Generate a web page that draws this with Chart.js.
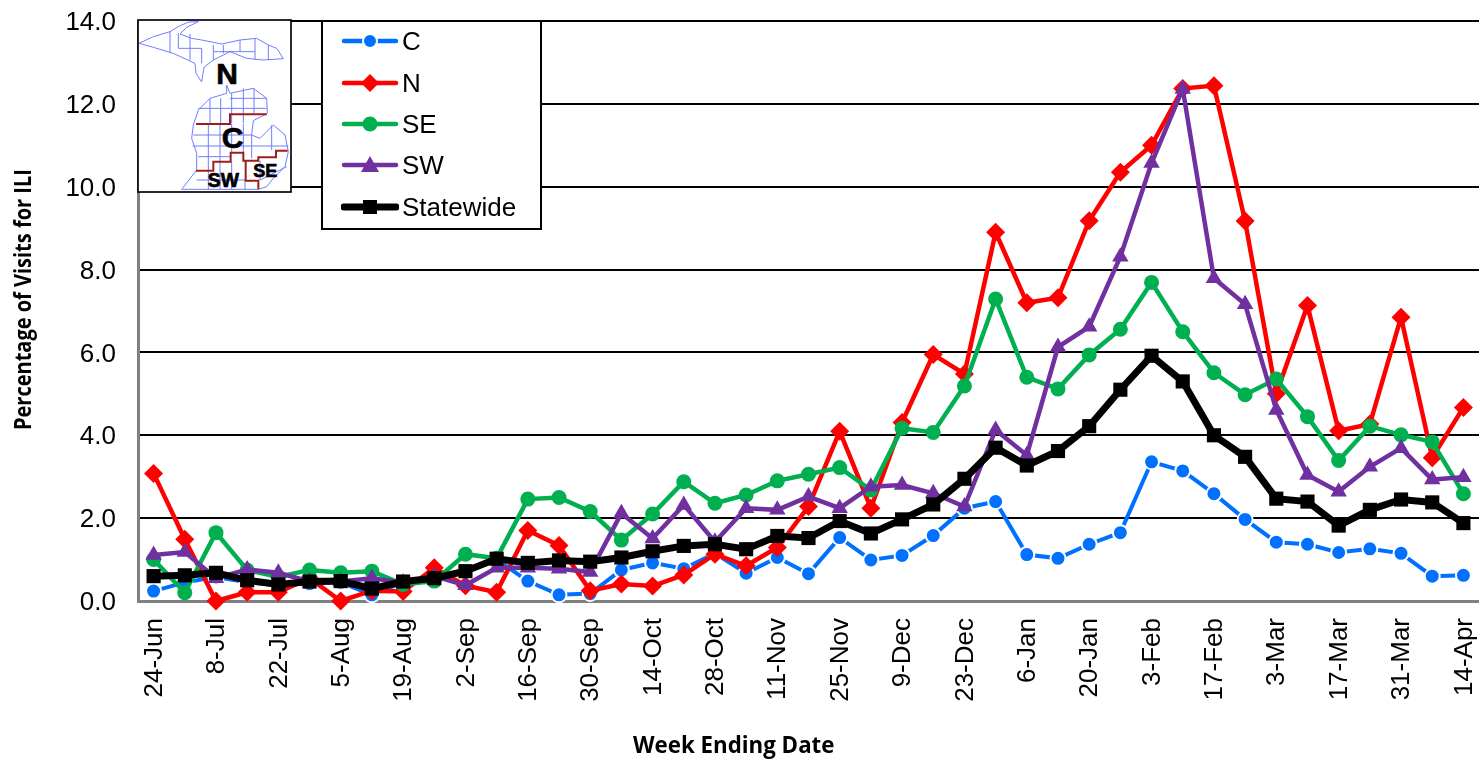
<!DOCTYPE html>
<html><head><meta charset="utf-8">
<style>
html,body{margin:0;padding:0;background:#fff;width:1479px;height:759px;overflow:hidden}
#c{position:absolute;left:0;top:0}
#map{position:absolute;left:130px;top:10px}
#titles{position:absolute;left:0;top:0}
#legend{position:absolute;left:321px;top:20px;width:217px;height:206px;border:2px solid #000;background:#fff;
 font-family:"Liberation Sans",Arial,sans-serif;font-size:26px;color:#000}
.row{position:absolute;left:0;height:30px;line-height:30px;white-space:nowrap}
.row svg{position:absolute;left:18px;top:0}
.row span{position:absolute;left:79px;top:0}
</style></head><body>
<canvas id="c" width="1479" height="759"></canvas>
<svg id="titles" width="1479" height="759" font-family="Open Sans,Noto Sans,sans-serif" font-weight="bold" fill="#000">
<text transform="translate(31,430) rotate(-90) scale(1,1.12)" font-size="20">Percentage of Visits for ILI</text>
<text x="633" y="753" font-size="22.3">Week Ending Date</text>
</svg>
<svg id="map" width="420" height="230" viewBox="0 0 1260 690">
<rect x="24" y="30" width="459" height="516" fill="#fff" stroke="#000" stroke-width="5"/>
<g fill="none" stroke="#6f7dff" stroke-width="3">
<path d="M27,100 L70,80 L120,65 L145,50 L175,36 L205,35 L170,52 L150,72 L185,85 L215,90 L275,102 L330,90 L380,85 L415,105 L440,115 L460,146 L400,150 L350,145 L300,125 L250,150 L222,172 L215,216 L198,190 L195,160 L130,130 L70,112 Z"/>
<path d="M290,225 L300,250 L370,235 L410,265 L412,310 L370,332 L365,375 L390,385 L430,345 L465,375 L475,425 L465,470 L430,505 L410,530 L385,538 L155,538 L200,480 L200,430 L185,385 L190,345 L205,300 L240,265 L290,250 Z"/>
<path d="M120,65 L120,130 M145,70 L145,115 L215,115 L215,160 M180,72 L180,150 M250,105 L250,150 M280,105 L280,130 M330,90 L330,125 M375,85 L375,150 M250,125 L375,125 M415,105 L415,150"/>
<path d="M205,295 L410,295 M240,265 L240,340 M272,265 L272,340 M305,250 L305,340 M340,235 L340,340 M372,235 L372,310 M300,265 L410,265"/>
<path d="M190,375 L365,375 M188,408 L475,408 M205,440 L300,440 M235,342 L235,480 M270,342 L270,455 M305,342 L305,428 M340,342 L340,428 M365,375 L365,445 M425,345 L425,420 M200,510 L345,510 M235,480 L235,538 M270,455 L270,538 M305,455 L305,538 M345,510 L345,538 M390,452 L390,510 L470,470"/>
</g>
<g fill="none" stroke="#a01c1c" stroke-width="6">
<path d="M198,342 L300,342 L300,313 L410,313"/>
<path d="M198,482 L250,482 L250,455 L302,455 L302,428 L340,428 L340,452 L385,452 L385,442 L438,442 L438,422 L473,422"/>
<path d="M347,452 L347,512 L385,512 L385,538"/>
</g>
<g font-family="Liberation Sans,Arial,sans-serif" font-weight="bold" fill="#000" text-anchor="middle" stroke="#000" stroke-width="2">
<text x="291" y="222" font-size="90">N</text>
<text x="308" y="414" font-size="90">C</text>
<text x="280" y="532" font-size="58">SW</text>
<text x="406" y="502" font-size="54">SE</text>
</g>
</svg>
<div id="legend"></div>
<script src="https://cdn.jsdelivr.net/npm/chart.js@4"></script>
<script>
const categories=["24-Jun","1-Jul","8-Jul","15-Jul","22-Jul","29-Jul","5-Aug","12-Aug","19-Aug","26-Aug","2-Sep","9-Sep","16-Sep","23-Sep","30-Sep","7-Oct","14-Oct","21-Oct","28-Oct","4-Nov","11-Nov","18-Nov","25-Nov","2-Dec","9-Dec","16-Dec","23-Dec","30-Dec","6-Jan","13-Jan","20-Jan","27-Jan","3-Feb","10-Feb","17-Feb","24-Feb","3-Mar","10-Mar","17-Mar","24-Mar","31-Mar","7-Apr","14-Apr"];
const seriesC=[0.24,0.45,0.58,0.45,0.38,0.42,0.45,0.15,0.45,0.5,0.7,1.0,0.48,0.15,0.18,0.75,0.92,0.78,1.15,0.67,1.05,0.66,1.53,0.99,1.10,1.58,2.24,2.40,1.12,1.03,1.37,1.65,3.36,3.14,2.59,1.97,1.42,1.37,1.17,1.26,1.15,0.60,0.62];
const seriesN=[3.08,1.49,0.0,0.21,0.21,0.55,0.0,0.25,0.23,0.8,0.37,0.21,1.70,1.34,0.25,0.41,0.36,0.63,1.13,0.85,1.29,2.28,4.10,2.24,4.31,5.95,5.48,8.9,7.2,7.32,9.18,10.35,11.0,12.37,12.44,9.17,5.0,7.13,4.11,4.27,6.85,3.46,4.67];
const seriesSE=[1.0,0.2,1.65,0.75,0.58,0.75,0.68,0.72,0.4,0.48,1.13,1.03,2.46,2.5,2.16,1.47,2.10,2.88,2.36,2.56,2.90,3.06,3.22,2.68,4.17,4.07,5.19,7.29,5.4,5.12,5.94,6.56,7.69,6.50,5.51,4.98,5.36,4.45,3.39,4.22,4.01,3.84,2.59];
const seriesSW=[1.11,1.18,0.55,0.76,0.68,0.47,0.47,0.55,0.44,0.6,0.38,0.8,0.8,0.78,0.7,2.12,1.51,2.32,1.43,2.24,2.2,2.52,2.24,2.76,2.8,2.6,2.28,4.13,3.52,6.13,6.62,8.31,10.57,12.36,7.79,7.16,4.61,3.04,2.64,3.24,3.69,2.93,2.99];
const seriesState=[0.6,0.62,0.68,0.5,0.4,0.47,0.48,0.3,0.47,0.55,0.72,1.02,0.92,0.98,0.95,1.05,1.2,1.33,1.37,1.25,1.57,1.52,1.93,1.63,1.97,2.33,2.95,3.7,3.27,3.62,4.22,5.1,5.92,5.3,4.0,3.48,2.47,2.4,1.82,2.2,2.45,2.38,1.88];
const yTicks=[0,2,4,6,8,10,12,14];
const seriesNames=["C","N","SE","SW","Statewide"];
const seriesValues=[seriesC,seriesN,seriesSE,seriesSW,seriesState];
const seriesColors=["#0070ff","#ff0000","#00b050","#7030a0","#000000"];
const pointStyles=["circle","rectRot","circle","triangle","rect"];
const pointSizes=[7.5,9.5,7.5,9.5,10];
const lineWidths=[4,4.5,4.5,4.5,7];
const FONT='"Liberation Sans",Arial,sans-serif';
const noPad=s=>{s.paddingLeft=0;s.paddingRight=0;s.paddingTop=0;s.paddingBottom=0};

new Chart(document.getElementById('c'),{
 type:'line',
 data:{labels:categories,datasets:seriesNames.map((n,i)=>({
  label:n,data:seriesValues[i],borderColor:seriesColors[i],backgroundColor:seriesColors[i],
  borderWidth:lineWidths[i],tension:0,pointStyle:pointStyles[i],pointRadius:pointSizes[i],
  pointBackgroundColor:seriesColors[i],pointBorderColor:i===0?'#ffffff':seriesColors[i],pointBorderWidth:i===0?2:0,
  order:seriesNames.length-i,clip:false
 }))},
 options:{responsive:false,animation:false,
  layout:{autoPadding:false,padding:{top:21,left:0,right:0,bottom:0}},
  plugins:{legend:{display:false},tooltip:{enabled:false}},
  scales:{
   x:{offset:true,
    afterFit:s=>{s.height=158;noPad(s)},
    grid:{display:false,drawTicks:false},
    border:{display:true,color:'#808080',width:3},
    ticks:{autoSkip:false,minRotation:90,maxRotation:90,padding:17,labelOffset:1,color:'#000',font:{family:FONT,size:26},
      callback:function(v,i){return i%2===0?this.getLabelForValue(v):''}}
   },
   y:{min:0,max:14,
    afterBuildTicks:s=>{s.ticks=yTicks.map(v=>({value:v}))},
    afterFit:s=>{s.width=138;noPad(s)},
    grid:{drawTicks:false,lineWidth:2,color:c=>c.tick&&c.tick.value===0?'rgba(0,0,0,0)':'#000'},
    border:{display:true,color:'#808080',width:3},
    ticks:{padding:22,labelOffset:2,color:'#000',font:{family:FONT,size:26},callback:v=>v.toFixed(1)}
   }
  }
 }
});

const rowTops=[4,46,87,128,170];
const legend=document.getElementById('legend');
seriesNames.forEach((n,i)=>{
 const col=seriesColors[i],lw=i===4?7:4.5;let m='';
 if(i===0)m=`<circle cx="29" cy="15" r="7" fill="${col}" stroke="#fff" stroke-width="2"/>`;
 if(i===1)m=`<path d="M29,6 L38,15 L29,24 L20,15 Z" fill="${col}"/>`;
 if(i===2)m=`<circle cx="29" cy="15" r="7.5" fill="${col}"/>`;
 if(i===3)m=`<path d="M29,6 L38,22 L20,22 Z" fill="${col}"/>`;
 if(i===4)m=`<rect x="22" y="8" width="14" height="14" fill="${col}"/>`;
 const d=document.createElement('div');d.className='row';d.style.top=rowTops[i]+'px';
 d.innerHTML=`<svg width="58" height="30"><line x1="3" y1="15" x2="55" y2="15" stroke="${col}" stroke-width="${lw}" stroke-linecap="round"/>${m}</svg><span>${n}</span>`;
 legend.appendChild(d);
});
</script>
</body></html>
